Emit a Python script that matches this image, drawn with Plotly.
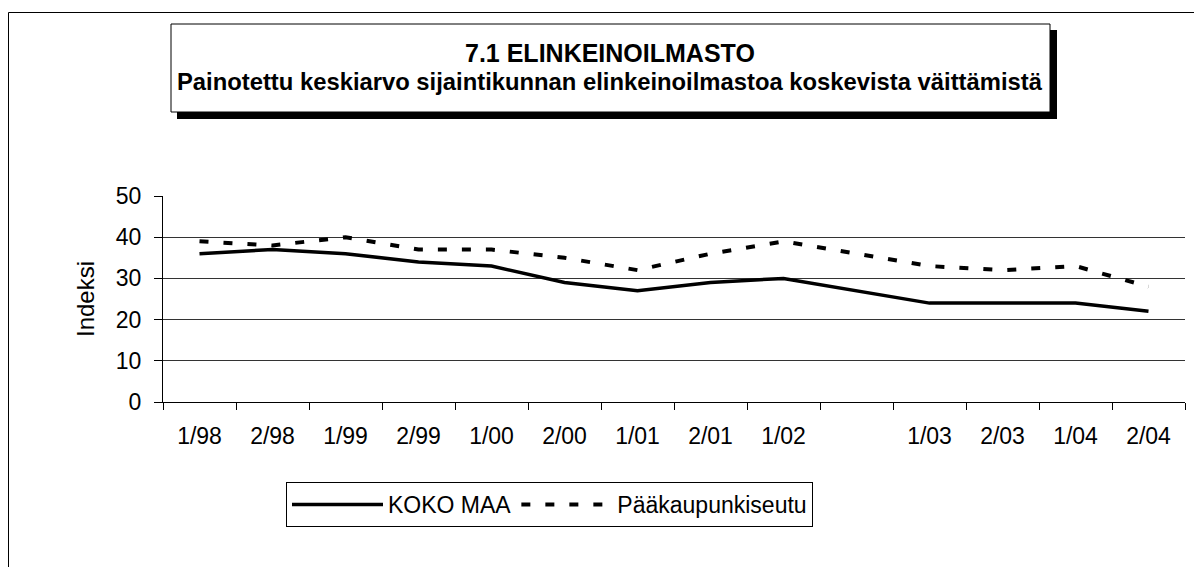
import plotly.graph_objects as go

categories = ["1/98", "2/98", "1/99", "2/99", "1/00", "2/00", "1/01", "2/01", "1/02", " ",
              "1/03", "2/03", "1/04", "2/04"]
koko_maa = [36, 37, 36, 34, 33, 29, 27, 29, 30, None, 24, 24, 24, 22]
paakaupunkiseutu = [39, 38, 40, 37, 37, 35, 32, 36, 39, None, 33, 32, 33, 28]
y_ticks = [0, 10, 20, 30, 40, 50]

title_main = "7.1 ELINKEINOILMASTO"
title_sub = "Painotettu keskiarvo sijaintikunnan elinkeinoilmastoa koskevista väittämistä"

W, H = 1202, 567
L, R, T, B = 155, 25, 188, 173
PW, PH = W - L - R, H - T - B
FONT = "Liberation Sans, Arial, sans-serif"


def px(x):
    return (x - L) / PW


def py(y):
    return (H - B - y) / PH


fig = go.Figure()
fig.add_trace(go.Scatter(x=categories, y=koko_maa, name="KOKO MAA", mode="lines",
                         line=dict(color="black", width=3.5), connectgaps=True))
fig.add_trace(go.Scatter(x=categories, y=paakaupunkiseutu, name="Pääkaupunkiseutu", mode="lines",
                         line=dict(color="black", width=4, dash="9px,15px"), connectgaps=True))

shapes = [
    # outer chart frame
    dict(type="rect", xref="paper", yref="paper", x0=px(0.5), x1=px(1230), y0=py(4.5), y1=py(600),
         line=dict(color="black", width=1), fillcolor="rgba(0,0,0,0)", layer="below"),
    # title shadow
    dict(type="rect", xref="paper", yref="paper", x0=px(169), x1=px(1049), y0=py(22), y1=py(111),
         line=dict(width=0), fillcolor="black", layer="above"),
    # title box
    dict(type="rect", xref="paper", yref="paper", x0=px(163), x1=px(1042), y0=py(16), y1=py(104),
         line=dict(color="black", width=1), fillcolor="white", layer="above"),
]

annotations = [
    dict(text="<b>" + title_main + "</b>", xref="paper", yref="paper", x=px(602), y=py(45),
         xanchor="center", yanchor="middle", showarrow=False, font=dict(family=FONT, size=25, color="black")),
    dict(text="<b>" + title_sub + "</b>", xref="paper", yref="paper", x=px(602), y=py(73),
         xanchor="center", yanchor="middle", showarrow=False, font=dict(family=FONT, size=23.8, color="black")),
]

fig.update_layout(
    width=W, height=H,
    margin=dict(l=L, r=R, t=T, b=B, autoexpand=False),
    paper_bgcolor="white", plot_bgcolor="white",
    font=dict(family=FONT, size=22, color="black"),
    shapes=shapes, annotations=annotations,
    showlegend=True,
    legend=dict(orientation="h", x=px(278), y=py(474), xanchor="left", yanchor="top",
                bordercolor="black", borderwidth=1, bgcolor="white",
                font=dict(family=FONT, size=23, color="black"),
                itemwidth=91, tracegroupgap=0),
)

fig.update_xaxes(type="category", categoryorder="array", categoryarray=categories,
                 range=[-0.5, len(categories) - 0.5],
                 showline=True, linecolor="black", linewidth=1, mirror=False,
                 ticks="outside", tickson="boundaries", ticklen=7, tickcolor="black",
                 showgrid=False, zeroline=False, ticklabelstandoff=13,
                 tickfont=dict(family=FONT, size=23, color="black"))
fig.update_yaxes(range=[0, 50], tickvals=y_ticks, showline=True, linecolor="black", linewidth=1,
                 ticks="outside", ticklen=8, tickcolor="black",
                 showgrid=True, gridcolor="#333333", gridwidth=1, zeroline=False,
                 ticklabelstandoff=8,
                 tickfont=dict(family=FONT, size=23, color="black"),
                 title=dict(text="Indeksi", font=dict(family=FONT, size=24, color="black"), standoff=14))

fig.write_html("out.html")
